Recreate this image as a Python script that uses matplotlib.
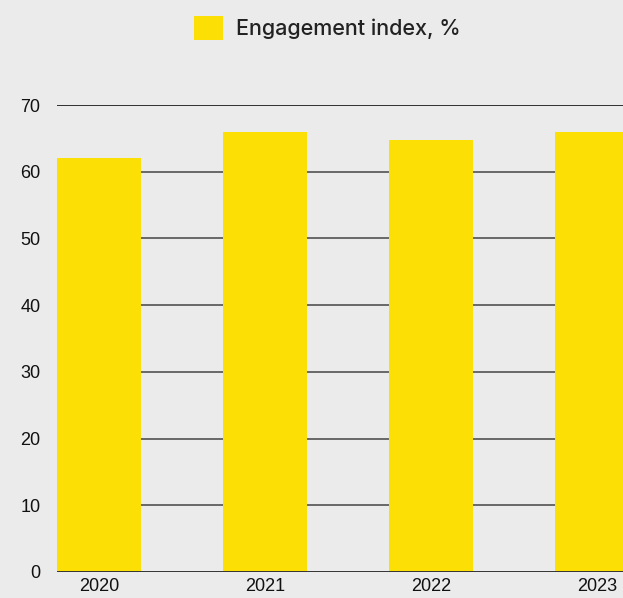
import matplotlib.pyplot as plt
from matplotlib.patches import Patch

# Engagement index by year
years = ['2020', '2021', '2022', '2023']
engagement = [62, 66, 64.8, 66]
y_ticks = [0, 10, 20, 30, 40, 50, 60, 70]

bg = '#ebebeb'
bar_color = '#fcdf05'

fig = plt.figure(figsize=(6.23, 5.98), dpi=100, facecolor=bg)
ax = fig.add_axes([57 / 623, 1 - 572 / 598, 1 - 57 / 623, (572 - 105) / 598])
ax.set_facecolor(bg)

x = list(range(len(years)))
ax.bar(x, engagement, width=0.506, color=bar_color, zorder=3)

# horizontal grid behind the bars
for v in y_ticks[1:-1]:
    ax.axhline(v, color='#444444', lw=1.1, zorder=1)
ax.axhline(70, color='#111111', lw=1.2, zorder=1)
ax.axhline(0, color='#333333', lw=1.4, zorder=4)

ax.set_xlim(-0.253, 3.157)
ax.set_ylim(0, 70)
ax.set_yticks(y_ticks)
ax.set_xticks(x)
ax.set_xticklabels(years)
ax.tick_params(axis='both', length=0, labelsize=13, labelcolor='#111111',
               labelfontfamily='Liberation Sans')
ax.tick_params(axis='y', pad=12)
ax.tick_params(axis='x', pad=4)
for s in ax.spines.values():
    s.set_visible(False)

handle = Patch(facecolor=bar_color, edgecolor='none')
fig.legend(handles=[handle], labels=['Engagement index, %'],
           loc='center', bbox_to_anchor=(327 / 623, 1 - 28 / 598),
           frameon=False, handlelength=1.35, handleheight=1.35, handletextpad=0.6,
           prop={'family': 'Inter', 'size': 15.5, 'weight': 'medium'},
           labelcolor='#222222')

fig.savefig('out.png', dpi=100, facecolor=bg)
